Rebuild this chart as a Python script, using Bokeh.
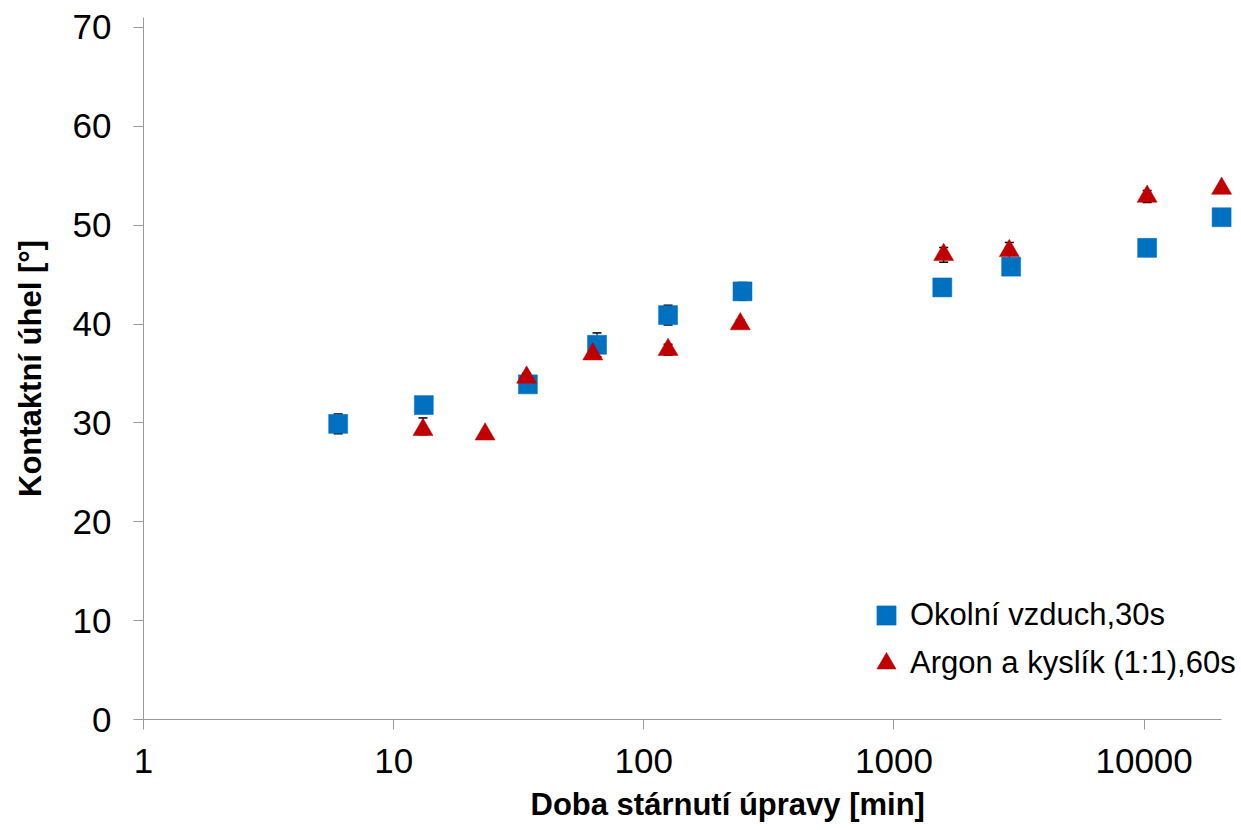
from bokeh.plotting import figure
from bokeh.models import (Range1d, FixedTicker, Whisker, TeeHead, ColumnDataSource,
                          Legend, LegendItem, Title)
from bokeh.embed import file_html
from bokeh.resources import INLINE

# Aging time of the treated surface [min] and contact angle [deg]
air_time = [6, 13.2, 34.4, 65, 125, 248, 1560, 2940, 10280, 20400]
air_angle = [29.9, 31.8, 33.9, 37.9, 40.9, 43.3, 43.7, 45.8, 47.7, 50.8]
air_err_plus = [1.0, 0.6, 0.5, 1.2, 1.0, 0.9, 0.5, 0.5, 0.5, 0.5]
air_err_minus = [1.0, 0.6, 0.5, 1.2, 1.0, 0.9, 0.5, 0.5, 0.5, 0.5]

argon_time = [13.1, 23.2, 34.0, 62.5, 125, 243, 1580, 2890, 10280, 20400]
argon_angle = [29.3, 28.85, 34.6, 36.95, 37.4, 40.0, 47.0, 47.4, 52.9, 53.7]
argon_err_plus = [1.2, 0.25, 0.4, 0.3, 0.55, 0.4, 0.75, 0.85, 0.6, 0.2]
argon_err_minus = [0.5, 0.25, 0.4, 0.3, 0.55, 0.4, 0.75, 0.85, 0.6, 0.2]

x_ticks = [1, 10, 100, 1000, 10000]
x_tick_labels = ["1", "10", "100", "1000", "10000"]
y_ticks = [0, 10, 20, 30, 40, 50, 60, 70]

air_label = "Okolní vzduch,30s"
argon_label = "Argon a kyslík (1:1),60s"
x_title = "Doba stárnutí úpravy [min]"
y_title = "Kontaktní úhel [°]"

BLUE = "#0070C0"
RED = "#C00000"
AXIS = "#9a9a9a"
FONT = "Liberation Sans"

p = figure(width=1241, height=830, x_axis_type="log",
           x_range=Range1d(1, 24500), y_range=Range1d(0, 71),
           output_backend="svg", toolbar_location=None,
           min_border_left=143, min_border_right=0,
           min_border_top=17, min_border_bottom=109)
p.outline_line_color = None
p.grid.grid_line_color = None
p.background_fill_color = "white"
p.border_fill_color = "white"

for ax in (p.xaxis[0], p.yaxis[0]):
    ax.axis_line_color = AXIS
    ax.major_tick_line_color = AXIS
    ax.minor_tick_line_color = None
    ax.major_tick_in = 0
    ax.major_tick_out = 10
    ax.major_label_text_font = FONT
    ax.major_label_text_font_size = "35px"
    ax.major_label_text_color = "black"

p.xaxis[0].ticker = FixedTicker(ticks=x_ticks)
p.xaxis[0].major_label_overrides = {t: s for t, s in zip(x_ticks, x_tick_labels)}
p.xaxis[0].bounds = (1, air_time[-1])
p.xaxis[0].major_label_standoff = 19

p.yaxis[0].ticker = FixedTicker(ticks=y_ticks)
p.yaxis[0].major_label_standoff = 22
p.yaxis[0].axis_label = y_title
p.yaxis[0].axis_label_text_font = FONT
p.yaxis[0].axis_label_text_font_style = "bold"
p.yaxis[0].axis_label_text_font_size = "31px"
p.yaxis[0].axis_label_text_color = "black"
p.yaxis[0].axis_label_standoff = 22

air = ColumnDataSource(dict(x=air_time, y=air_angle,
                            lo=[a - e for a, e in zip(air_angle, air_err_minus)],
                            hi=[a + e for a, e in zip(air_angle, air_err_plus)]))
argon = ColumnDataSource(dict(x=argon_time, y=argon_angle,
                              lo=[a - e for a, e in zip(argon_angle, argon_err_minus)],
                              hi=[a + e for a, e in zip(argon_angle, argon_err_plus)]))

# error bars sit underneath the markers
for src in (air, argon):
    w = Whisker(source=src, base="x", lower="lo", upper="hi", dimension="height",
                line_color="black", line_width=1, level="underlay",
                upper_head=TeeHead(size=9, line_color="black", line_width=1.5),
                lower_head=TeeHead(size=9, line_color="black", line_width=1.5))
    p.add_layout(w)

r_air = p.scatter("x", "y", source=air, marker="square", size=19,
                  fill_color=BLUE, line_color=BLUE, line_width=0.5)
r_arg = p.scatter("x", "y", source=argon, marker="triangle", size=20,
                  fill_color=RED, line_color=RED, line_width=0.5)

legend = Legend(items=[LegendItem(label=air_label, renderers=[r_air]),
                       LegendItem(label=argon_label, renderers=[r_arg])],
                location=(719, 32), padding=0, margin=0, spacing=-8,
                glyph_width=48, glyph_height=48, label_standoff=0,
                label_text_font=FONT, label_text_font_size="31px",
                label_text_color="black",
                border_line_color=None, background_fill_alpha=0)
p.add_layout(legend, "center")

p.add_layout(Title(text=x_title, align="left", offset=387, standoff=18,
                   text_font=FONT, text_font_style="bold",
                   text_font_size="31px", text_color="black"), "below")

open("out.html", "w").write(file_html(p, INLINE))
